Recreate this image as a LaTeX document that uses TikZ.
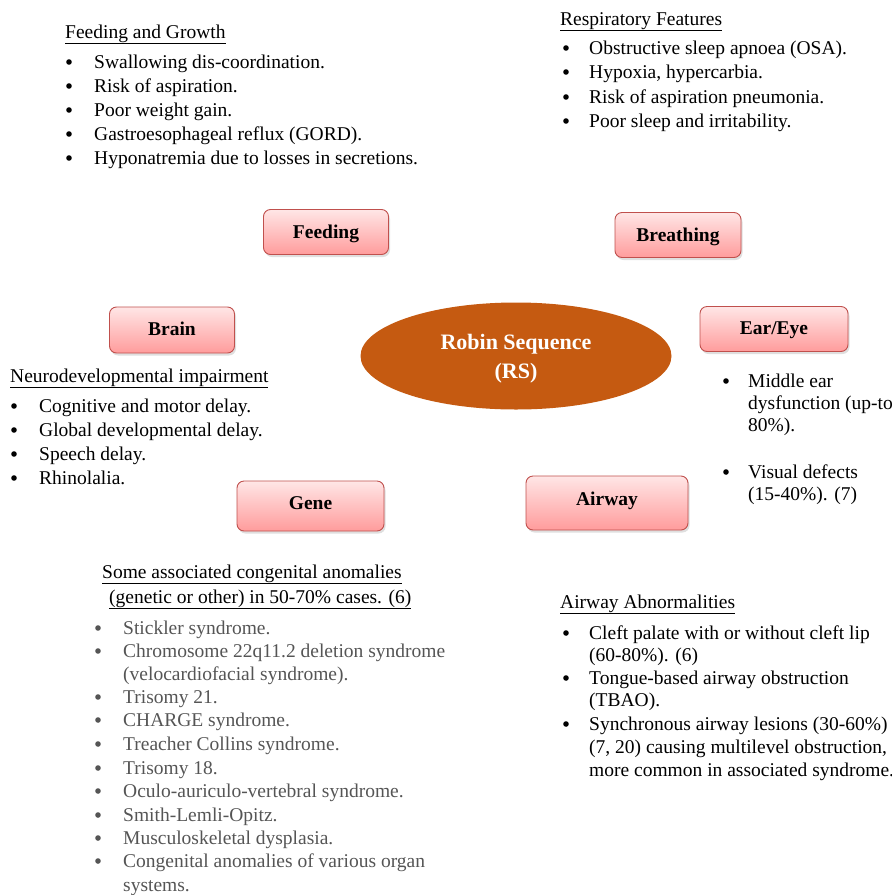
\documentclass[tikz,border=0pt]{standalone}
\usepackage{fontspec}
\setmainfont{Liberation Serif}
\usetikzlibrary{shapes.geometric,shadows}
\definecolor{boxtop}{HTML}{FFE6E6}
\definecolor{boxbot}{HTML}{FF9C9C}
\definecolor{boxline}{HTML}{C0504D}
\definecolor{rsfill}{HTML}{C55A11}
\definecolor{greytext}{HTML}{555555}
\begin{document}
\begin{tikzpicture}[x=1pt,y=-1pt,
  topic/.style={draw=boxline, line width=0.9pt, rounded corners=7pt,
    top color=boxtop, bottom color=boxbot,
    drop shadow={shadow xshift=1.5pt, shadow yshift=-2.5pt, opacity=0.25},
    inner sep=0pt},
  tlab/.style={inner sep=0pt, text height=13.5pt, text depth=0pt,
    font=\fontsize{19.5}{22}\selectfont\bfseries},
  txt/.style={anchor=base west, inner sep=0pt, font=\fontsize{19.5}{24}\selectfont},
  gtxt/.style={txt, text=greytext},
  bul/.style={circle, fill=black, inner sep=0pt, minimum size=5.6pt},
  gbul/.style={bul, fill=greytext},
  hub/.style={ellipse, fill=rsfill, inner sep=0pt},
  hlab/.style={inner sep=0pt, text=white, align=center,
    font=\fontsize{22}{29}\selectfont\bfseries}]
\useasboundingbox (0,0) rectangle (892,895);

% hub
\node[hub, minimum width=311pt, minimum height=107pt,
  label={[hlab, yshift=-3pt]center:Robin Sequence\\(RS)}] (rs) at (516,356) {};

% topic boxes
\node[topic, minimum width=125pt, minimum height=45pt,
  label={[tlab, yshift=0.5pt]center:Feeding}] (feeding) at (326,232) {};
\node[topic, minimum width=126pt, minimum height=45pt,
  label={[tlab, yshift=0.5pt]center:Breathing}] (breathing) at (678,235) {};
\node[topic, minimum width=125pt, minimum height=46pt,
  label={[tlab, yshift=1pt]center:Brain}] (brain) at (172,330) {};
\node[topic, minimum width=148pt, minimum height=45pt,
  label={[tlab, yshift=1.5pt]center:Ear/Eye}] (eareye) at (774,329) {};
\node[topic, minimum width=147pt, minimum height=50pt,
  label={[tlab, yshift=3pt]center:Gene}] (gene) at (310.5,506) {};
\node[topic, minimum width=162pt, minimum height=54pt,
  label={[tlab, yshift=4pt]center:Airway}] (airway) at (607,503) {};

% Feeding and Growth
\node[txt] (fgh) at (65,38) {\underline{Feeding and Growth}};
\foreach \y/\t [count=\i] in {68/Swallowing dis-coordination.,92/Risk of aspiration.,116/Poor weight gain.,140/Gastroesophageal reflux (GORD).,164/Hyponatremia due to losses in secretions.}{
  \node[bul] (fgb\i) at (69,\y-6) {};
  \node[txt] (fgt\i) at (94,\y) {\t};
}

% Respiratory Features
\node[txt] (rfh) at (560,25) {\underline{Respiratory Features}};
\foreach \y/\t [count=\i] in {54/Obstructive sleep apnoea (OSA).,78/{Hypoxia, hypercarbia.},103/Risk of aspiration pneumonia.,127/Poor sleep and irritability.}{
  \node[bul] (rfb\i) at (566,\y-6) {};
  \node[txt] (rft\i) at (589,\y) {\t};
}

% Neurodevelopmental
\node[txt] (ndh) at (10,382) {\underline{Neurodevelopmental impairment}};
\foreach \y/\t [count=\i] in {412/Cognitive and motor delay.,436/Global developmental delay.,460/Speech delay.,484/Rhinolalia.}{
  \node[bul] (ndb\i) at (14,\y-6) {};
  \node[txt] (ndt\i) at (39,\y) {\t};
}

% Ear/Eye list
\node[bul] (eeb1) at (726,381) {};
\node[txt] (eet1) at (748,387) {Middle ear};
\node[txt] (eet2) at (748,409) {dysfunction (up-to};
\node[txt] (eet3) at (748,431) {80\%).};
\node[bul] (eeb2) at (726,472) {};
\node[txt] (eet4) at (748,478) {Visual defects};
\node[txt] (eet5) at (748,500) {(15-40\%). (7)};

% Gene list
\node[txt] (gh1) at (102,578) {\underline{Some associated congenital anomalies}};
\node[txt] (gh2) at (109,603) {\underline{(genetic or other) in 50-70\% cases. (6)}};
\foreach \y/\t [count=\i] in {634/Stickler syndrome.,657/Chromosome 22q11.2 deletion syndrome,703/Trisomy 21.,726/CHARGE syndrome.,750/Treacher Collins syndrome.,774/Trisomy 18.,797/Oculo-auriculo-vertebral syndrome.,821/Smith-Lemli-Opitz.,844/Musculoskeletal dysplasia.,867/Congenital anomalies of various organ}{
  \node[gbul] (gb\i) at (98,\y-6) {};
  \node[gtxt] (gt\i) at (123,\y) {\t};
}
\node[gtxt] (gt2b) at (123,680) {(velocardiofacial syndrome).};
\node[gtxt] (gt10b) at (123,891) {systems.};

% Airway Abnormalities
\node[txt] (aah) at (560,608) {\underline{Airway Abnormalities}};
\node[bul] (aab1) at (566,633) {};
\node[txt] (aat1) at (589,639) {Cleft palate with or without cleft lip};
\node[txt] (aat2) at (589,661) {(60-80\%). (6)};
\node[bul] (aab2) at (566,678) {};
\node[txt] (aat3) at (589,684) {Tongue-based airway obstruction};
\node[txt] (aat4) at (589,706) {(TBAO).};
\node[bul] (aab3) at (566,724) {};
\node[txt] (aat5) at (589,730) {Synchronous airway lesions (30-60\%)};
\node[txt] (aat6) at (589,753) {(7, 20) causing multilevel obstruction,};
\node[txt] (aat7) at (589,776) {more common in associated syndrome.};
\end{tikzpicture}
\end{document}
